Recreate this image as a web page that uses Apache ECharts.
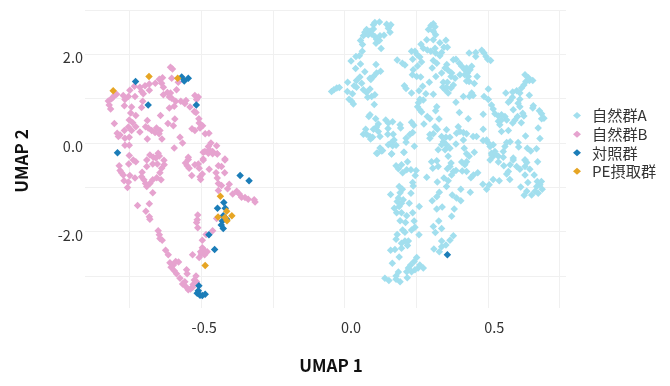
<!DOCTYPE html>
<html><head><meta charset="utf-8">
<style>html,body{margin:0;padding:0;background:#fff}#c{width:670px;height:386px}</style>
<script src="https://cdn.jsdelivr.net/npm/echarts@6/dist/echarts.min.js"></script>
</head><body><div id="c"></div>
<script>
const seriesNames=["自然群A","自然群B","対照群","PE摂取群"];
const colors=["#a2dfee","#e6a3cf","#1b7db8","#e6a524"];
const xGrid=[-0.75,-0.5,-0.25,0,0.25,0.5,0.75];
const yGrid=[-3,-2,-1,0,1,2,3];
const xLabels=[-0.5,0,0.5];
const yLabels=[-2,0,2];
const groupA=[[-0.045,1.16],[-0.037,1.20],[-0.027,1.24],[-0.018,1.25],[0.011,1.37],[0.010,1.16],[0.028,1.11],[0.042,1.26],[0.034,1.29],[0.042,1.41],[0.054,1.49],[0.060,1.35],[0.066,1.20],[0.077,1.14],[0.089,1.22],[0.081,1.03],[0.095,1.05],[0.106,1.09],[0.016,0.99],[0.025,0.94],[0.031,0.88],[0.104,0.87],
[0.039,1.68],[0.071,1.61],[0.056,1.78],[0.023,1.85],[0.040,1.95],[0.052,1.97],[0.062,2.07],[0.110,1.77],[0.089,1.46],[0.101,1.50],[0.112,1.58],[0.126,1.62],[0.092,1.43],
[0.056,2.31],[0.063,2.22],[0.066,2.42],[0.071,2.50],[0.077,2.56],[0.089,2.52],[0.075,2.47],[0.083,2.44],[0.095,2.46],[0.101,2.67],[0.106,2.72],[0.122,2.73],[0.101,2.57],[0.106,2.40],[0.112,2.34],[0.124,2.42],[0.110,2.25],[0.122,2.31],[0.138,2.43],[0.128,2.13],[0.147,2.68],[0.156,2.63],[0.162,2.67],[0.153,2.59],[0.159,2.50],
[0.184,1.87],[0.202,1.80],[0.211,1.76],[0.209,1.29],[0.215,1.23],[0.234,1.13],[0.237,1.54],[0.240,1.65],[0.255,1.74],[0.238,1.89],[0.234,2.07],[0.246,2.07],[0.254,1.99],[0.263,1.94],[0.269,1.83],[0.252,1.50],[0.266,1.49],[0.273,1.28],[0.260,1.18],[0.284,1.11],[0.310,1.10],[0.296,1.37],
[0.267,2.23],[0.275,2.14],[0.287,2.33],[0.293,2.56],[0.302,2.65],[0.310,2.69],[0.316,2.62],[0.310,2.52],[0.318,2.44],[0.310,2.33],[0.333,2.26],[0.354,2.32],[0.289,2.10],[0.301,2.07],[0.316,2.14],[0.318,2.03],[0.347,2.16],[0.359,2.16],[0.339,2.04],[0.333,1.97],[0.310,1.86],[0.322,1.80],[0.306,1.69],[0.339,1.58],[0.319,1.50],
[0.357,1.77],[0.351,1.69],[0.362,1.64],[0.374,1.58],[0.372,1.50],[0.386,1.46],[0.380,1.88],[0.389,1.89],[0.401,1.80],[0.409,1.73],[0.420,1.65],[0.429,1.58],[0.438,1.65],[0.444,1.73],[0.426,1.69],[0.432,1.50],[0.420,1.54],[0.403,1.54],[0.463,1.50],[0.426,1.40],[0.435,1.39],[0.453,1.34],
[0.435,2.03],[0.458,2.04],[0.458,1.95],[0.479,2.09],[0.487,2.03],[0.494,1.95],[0.500,1.89],[0.510,1.86],
[0.345,1.37],[0.359,1.37],[0.380,1.31],[0.372,1.24],[0.343,1.26],[0.351,1.20],[0.362,1.13],[0.356,1.26],
[0.444,1.13],[0.449,1.07],[0.436,1.05],[0.415,1.05],[0.389,0.92],[0.502,1.22],[0.487,1.05],[0.502,0.98],
[0.563,1.13],[0.587,1.15],[0.601,1.18],[0.612,1.13],[0.645,1.08],[0.618,1.24],[0.626,1.31],[0.633,1.39],[0.645,1.41],[0.657,1.41],[0.642,1.47],[0.630,1.54],[0.586,1.03],[0.578,0.96],[0.572,0.92],[0.612,0.99],[0.606,0.90],[0.612,0.82],[0.589,0.75],[0.626,0.61],[0.622,0.67],[0.659,0.84],[0.657,0.79],[0.680,0.73],[0.688,0.66],[0.696,0.56],[0.688,0.55],[0.676,0.34],[0.682,0.10],[0.632,0.16],[0.604,0.60],[0.617,0.46],[0.595,0.52],[0.587,0.45],[0.572,0.28],[0.548,0.26],
[0.513,0.86],[0.519,0.77],[0.525,0.66],[0.537,0.61],[0.548,0.64],[0.560,0.60],[0.566,0.52],[0.548,0.52],[0.537,0.49],[0.542,0.41],[0.484,0.65],[0.484,0.31],
[0.263,0.99],[0.275,0.97],[0.258,0.91],[0.255,0.82],[0.263,0.75],[0.269,0.70],[0.322,0.82],[0.318,0.73],[0.401,0.69],[0.432,0.55],[0.289,0.60],[0.298,0.55],[0.277,0.43],[0.330,0.54],[0.316,0.37],[0.324,0.31],[0.356,0.30],
[0.089,0.64],[0.085,0.60],[0.109,0.55],[0.144,0.52],[0.153,0.45],[0.168,0.48],[0.118,0.43],[0.194,0.41],[0.196,0.34],[0.152,0.33],[0.112,0.36],[0.101,0.31],[0.074,0.31],[0.118,0.26],[0.066,0.20],[0.077,0.20],[0.089,0.15],[0.098,0.13],[0.091,0.09],[0.124,0.15],[0.151,0.20],[0.170,0.20],[0.173,0.07],[0.164,0.01],[0.153,-0.04],[0.168,-0.06],[0.180,-0.05],[0.124,-0.11],[0.133,-0.17],[0.115,-0.23],[0.164,-0.25],[0.208,-0.21],[0.215,0.11],[0.215,0.02],[0.234,0.47],[0.242,0.40],[0.238,0.24],[0.228,0.19],[0.244,-0.07],
[0.298,0.19],[0.310,0.21],[0.298,0.11],[0.339,0.15],[0.354,0.13],[0.368,0.13],[0.345,0.03],[0.356,-0.04],[0.339,-0.04],[0.327,-0.15],[0.351,-0.15],[0.368,-0.12],[0.389,-0.02],[0.362,-0.30],
[0.397,0.37],[0.403,0.26],[0.391,0.22],[0.415,0.24],[0.426,0.21],[0.415,0.07],[0.418,-0.12],[0.449,0.15],[0.461,0.15],[0.426,-0.24],[0.453,-0.21],[0.435,-0.30],
[0.484,0.06],[0.496,0.07],[0.502,0.00],[0.519,-0.04],[0.508,-0.08],[0.513,-0.23],[0.525,-0.19],[0.560,-0.08],[0.566,0.01],[0.578,0.03],[0.606,0.01],[0.608,-0.09],[0.638,-0.12],[0.650,-0.18],[0.670,-0.13],[0.519,-0.30],[0.537,-0.30],[0.554,-0.19],[0.589,-0.34],[0.630,-0.38],
[0.112,-0.23],[0.130,-0.18],[0.165,-0.24],[0.207,-0.21],[0.180,-0.51],[0.199,-0.49],[0.220,-0.42],[0.188,-0.58],[0.203,-0.67],[0.217,-0.60],[0.232,-0.60],[0.250,-0.62],[0.247,-0.73],[0.287,-0.77],
[0.304,-0.42],[0.322,-0.40],[0.327,-0.53],[0.308,-0.57],[0.359,-0.58],[0.372,-0.45],[0.368,-0.53],[0.380,-0.64],[0.374,-0.72],[0.389,-0.62],[0.409,-0.43],[0.426,-0.42],[0.420,-0.49],[0.411,-0.63],[0.426,-0.64],
[0.450,-0.72],[0.465,-0.67],[0.441,-0.78],[0.324,-0.88],[0.347,-0.79],[0.362,-0.85],[0.356,-0.98],[0.406,-1.04],[0.439,-1.11],[0.483,-0.93],[0.505,-0.94],[0.496,-1.04],[0.519,-0.82],[0.540,-0.85],[0.577,-0.82],
[0.508,-0.38],[0.514,-0.27],[0.525,-0.24],[0.537,-0.43],[0.554,-0.32],[0.556,-0.51],[0.578,-0.49],[0.589,-0.38],[0.572,-0.64],[0.566,-0.70],[0.601,-0.53],[0.612,-0.59],[0.630,-0.53],[0.647,-0.59],[0.630,-0.38],[0.636,-0.44],[0.674,-0.42],[0.662,-0.72],[0.630,-0.72],[0.640,-0.89],[0.615,-0.99],[0.636,-1.09],[0.627,-1.18],[0.653,-1.17],[0.665,-1.09],[0.676,-1.13],[0.690,-1.04],[0.682,-0.94],[0.673,-0.87],[0.687,-0.87],[0.671,-0.98],
[0.191,-0.98],[0.202,-1.04],[0.194,-1.12],[0.161,-1.16],[0.232,-1.13],[0.238,-0.89],[0.240,-0.97],[0.188,-1.24],[0.205,-1.28],[0.184,-1.32],[0.199,-1.36],[0.226,-1.36],[0.174,-1.47],[0.191,-1.43],[0.182,-1.57],[0.199,-1.57],[0.217,-1.64],[0.238,-1.57],[0.261,-1.43],[0.194,-1.75],[0.213,-1.79],[0.243,-1.76],[0.246,-1.90],[0.234,-1.96],[0.203,-1.96],[0.211,-2.01],[0.260,-2.07],[0.184,-2.06],[0.180,-2.17],[0.199,-2.26],[0.211,-2.21],[0.223,-2.21],[0.220,-2.31],[0.199,-2.37],[0.176,-2.40],[0.161,-2.42],[0.191,-2.57],[0.167,-2.71],
[0.252,-2.58],[0.243,-2.67],[0.231,-2.75],[0.223,-2.82],[0.217,-2.90],[0.234,-2.90],[0.246,-2.86],[0.263,-2.75],[0.275,-2.82],[0.257,-2.82],[0.219,-3.04],[0.188,-2.91],[0.180,-3.00],[0.141,-3.05],[0.155,-3.10],[0.194,-3.13],[0.180,-3.07],
[0.312,-2.39],[0.331,-2.45],[0.339,-2.34],[0.354,-2.30],[0.368,-2.19],[0.380,-2.09],[0.339,-2.21],[0.317,-2.02],[0.339,-1.93],[0.310,-1.88],[0.329,-1.76],[0.374,-1.65],[0.383,-1.49],[0.322,-1.49],[0.341,-1.44],[0.306,-1.30],[0.322,-1.21],[0.331,-1.11],[0.376,-1.17],[0.391,-1.24],[0.406,-1.30]];
const groupB=[[-0.607,1.71],[-0.600,1.67],[-0.603,1.46],[-0.580,1.37],[-0.586,1.20],[-0.635,1.47],[-0.646,1.44],[-0.638,1.35],[-0.632,1.26],[-0.660,1.35],[-0.681,1.33],[-0.696,1.29],[-0.714,1.26],[-0.733,1.28],[-0.749,1.19],[-0.708,1.16],[-0.681,1.19],[-0.702,1.11],[-0.731,1.05],[-0.754,1.05],[-0.772,1.07],[-0.766,0.98],[-0.768,0.84],[-0.743,0.81],[-0.708,0.80],[-0.704,0.94],
[-0.795,1.10],[-0.803,1.07],[-0.813,1.00],[-0.824,0.95],[-0.821,0.86],[-0.816,0.77],[-0.808,1.03],[-0.632,1.09],[-0.618,1.14],[-0.607,1.13],[-0.611,1.04],[-0.603,1.01],[-0.589,0.94],[-0.571,0.94],[-0.553,0.96],[-0.557,0.89],[-0.539,0.81],[-0.594,0.83],[-0.611,0.79],[-0.522,1.07],[-0.510,1.04],[-0.516,0.98],[-0.524,0.71],[-0.518,0.69],[-0.508,0.55],[-0.507,0.45],[-0.495,0.39],[-0.504,0.34],[-0.522,0.28],[-0.532,0.32],[-0.486,0.21],[-0.473,0.22],
[-0.746,0.68],[-0.728,0.62],[-0.688,0.51],[-0.642,0.62],[-0.592,0.54],[-0.616,0.44],[-0.597,0.39],[-0.803,0.44],[-0.751,0.52],[-0.739,0.46],[-0.728,0.37],[-0.754,0.36],[-0.743,0.28],[-0.768,0.28],[-0.714,0.25],[-0.694,0.37],[-0.685,0.34],[-0.673,0.28],[-0.656,0.34],[-0.661,0.24],[-0.644,0.28],[-0.647,0.21],[-0.793,0.22],[-0.783,0.18],[-0.789,0.15],[-0.766,0.11],[-0.751,0.13],[-0.688,0.09],[-0.637,0.09],[-0.766,-0.05],[-0.751,-0.05],[-0.574,0.13],[-0.565,0.00],[-0.594,-0.11],
[-0.466,0.00],[-0.446,-0.06],[-0.475,-0.08],[-0.487,-0.19],[-0.460,-0.19],[-0.444,-0.24],[-0.472,-0.15],[-0.417,-0.36],[-0.493,-0.36],[-0.545,-0.32],[-0.751,-0.28],
[-0.737,-0.38],[-0.728,-0.42],[-0.753,-0.47],[-0.786,-0.51],[-0.783,-0.62],[-0.778,-0.67],[-0.772,-0.72],[-0.769,-0.85],[-0.754,-0.88],[-0.757,-1.00],[-0.749,-0.73],[-0.731,-0.79],
[-0.679,-0.27],[-0.667,-0.32],[-0.650,-0.23],[-0.658,-0.34],[-0.646,-0.29],[-0.690,-0.38],[-0.669,-0.47],[-0.690,-0.53],[-0.653,-0.47],[-0.630,-0.39],[-0.629,-0.49],[-0.638,-0.57],[-0.644,-0.67],[-0.706,-0.66],[-0.708,-0.76],[-0.700,-0.83],[-0.694,-0.91],[-0.690,-0.98],[-0.679,-0.91],[-0.669,-0.83],[-0.655,-0.78],[-0.640,-0.83],[-0.669,-1.12],[-0.681,-1.37],[-0.722,-1.41],[-0.693,-1.54],[-0.681,-1.66],[-0.679,-1.72],
[-0.650,-1.98],[-0.646,-2.07],[-0.644,-2.15],[-0.636,-2.19],[-0.624,-2.42],[-0.615,-2.52],[-0.609,-2.70],[-0.589,-2.67],[-0.579,-2.68],[-0.597,-2.75],[-0.605,-2.80],[-0.594,-2.88],[-0.586,-2.95],[-0.574,-3.05],[-0.551,-2.86],[-0.549,-2.95],[-0.518,-3.00],[-0.524,-3.09],[-0.516,-3.13],[-0.528,-3.19],[-0.557,-3.13],[-0.565,-3.18],[-0.553,-3.24],[-0.545,-3.31],[-0.537,-3.29],[-0.530,-3.25],
[-0.545,-0.37],[-0.555,-0.45],[-0.549,-0.51],[-0.542,-0.57],[-0.522,-0.49],[-0.510,-0.47],[-0.493,-0.39],[-0.507,-0.57],[-0.533,-0.73],[-0.504,-0.76],[-0.496,-0.70],[-0.502,-0.82],[-0.472,-0.59],[-0.417,-0.38],[-0.440,-0.51],[-0.429,-0.53],[-0.448,-0.67],[-0.418,-0.67],[-0.444,-0.79],[-0.440,-0.91],[-0.429,-0.96],[-0.402,-0.93],[-0.408,-1.03],[-0.440,-1.07],
[-0.493,-0.21],[-0.475,-0.23],[-0.460,-0.24],[-0.444,-0.25],[-0.390,-1.15],[-0.376,-1.09],[-0.367,-1.15],[-0.359,-1.22],[-0.347,-1.23],[-0.336,-1.27],[-0.315,-1.28],[-0.312,-1.33],
[-0.512,-1.62],[-0.514,-1.73],[-0.516,-1.79],[-0.512,-1.91],[-0.446,-1.70],[-0.460,-1.98],[-0.483,-2.06],[-0.496,-2.19],[-0.496,-2.36],[-0.490,-2.41],[-0.502,-2.45],[-0.479,-2.45],[-0.499,-2.50],[-0.507,-2.58],[-0.530,-2.52],[-0.488,-2.52]];
const controlGroup=[[-0.729,1.39],[-0.568,1.49],[-0.559,1.40],[-0.545,1.46],[-0.685,0.86],[-0.517,0.86],[-0.792,-0.22],[-0.364,-0.73],[-0.333,-0.85],[-0.421,-1.34],[-0.416,-1.47],[-0.443,-1.47],[-0.423,-1.64],[-0.411,-1.72],[-0.426,-1.76],[-0.430,-1.85],[-0.423,-1.93],[-0.473,-2.07],[-0.453,-2.40],[-0.508,-3.22],[-0.514,-3.39],[-0.504,-3.43],[-0.496,-3.44],[-0.486,-3.41],[-0.510,-3.33],[0.359,-2.52]];
const peGroup=[[-0.807,1.18],[-0.682,1.50],[-0.582,1.46],[-0.433,-1.20],[-0.411,-1.54],[-0.393,-1.64],[-0.441,-1.67],[-0.417,-1.68],[-0.410,-1.75],[-0.486,-2.76]];
const groups=[groupA,groupB,controlGroup,peGroup];

const font='"Noto Sans CJK JP","Noto Sans",sans-serif';
const chart=echarts.init(document.getElementById('c'),null,{renderer:'canvas'});
chart.setOption({
  animation:false,
  backgroundColor:'#fff',
  grid:{left:85,top:10,width:481,height:298,containLabel:false},
  legend:{orient:'vertical',left:568,top:103,itemWidth:8,itemHeight:7,itemGap:3.4,icon:'diamond',
    data:seriesNames,textStyle:{fontFamily:font,fontSize:15.2,color:'#333',padding:[0,0,0,6]}},
  xAxis:{type:'value',min:-0.9054,max:0.773,name:'UMAP 1',nameLocation:'middle',nameGap:49,
    nameTextStyle:{fontFamily:font,fontSize:17,fontWeight:'bold',color:'#111',padding:[0,0,0,11]},
    axisLine:{show:false},axisTick:{show:false,customValues:xGrid},
    splitLine:{show:true,lineStyle:{color:'#f0f0f0',width:1}},
    axisLabel:{customValues:xLabels,margin:12,fontFamily:font,fontSize:14.5,color:'#333',
      formatter:v=>(v<0?'{n|':'{p|')+v.toFixed(1)+'}',
      rich:{n:{fontFamily:font,fontSize:14.5,color:'#333',padding:[0,0,0,6]},p:{fontFamily:font,fontSize:14.5,color:'#333',padding:[0,0,0,13]}}}},
  yAxis:{type:'value',min:-3.72,max:3,name:'UMAP 2',nameLocation:'middle',nameGap:55,nameRotate:90,
    nameTextStyle:{fontFamily:font,fontSize:17,fontWeight:'bold',color:'#111',padding:[0,4,0,0]},
    axisLine:{show:false},axisTick:{show:false,customValues:yGrid},
    splitLine:{show:true,lineStyle:{color:'#f0f0f0',width:1}},
    axisLabel:{customValues:yLabels,margin:2,fontFamily:font,fontSize:14.5,color:'#333',
      formatter:v=>'{a|'+v.toFixed(1)+'}',
      rich:{a:{fontFamily:font,fontSize:14.5,color:'#333',padding:[7,0,0,0]}}}},
  series:groups.map((d,i)=>({name:seriesNames[i],type:'scatter',data:d,symbol:'diamond',symbolSize:7.5,
    itemStyle:{color:colors[i],opacity:1},emphasis:{disabled:true}}))
});
</script></body></html>
